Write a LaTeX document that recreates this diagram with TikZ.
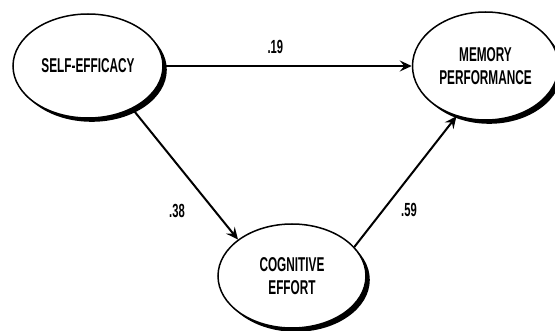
\documentclass[tikz,border=0pt]{standalone}
\usepackage{fontspec}
\newfontfamily\narrowsans[FakeStretch=0.59]{Liberation Sans}
\usetikzlibrary{positioning}
\usetikzlibrary{shapes.geometric}
\usetikzlibrary{shadows}
\usetikzlibrary{arrows.meta}

\tikzset{
  construct/.style={ellipse, draw, line width=1.5pt, fill=white, inner sep=0pt,
    align=center, font=\narrowsans\bfseries\fontsize{20}{23}\selectfont,
    drop shadow={shadow xshift=3.8pt, shadow yshift=-3.8pt, fill=black, opacity=1}},
  coef/.style={font=\narrowsans\bfseries\fontsize{19}{20}\selectfont, inner sep=0pt},
  link/.style={line width=2pt, -{Stealth[length=12pt, width=11pt, inset=4.5pt]}}
}

\begin{document}
\begin{tikzpicture}[x=1pt, y=-1pt]
\useasboundingbox (0,0) rectangle (555,331);

% self-efficacy
\node[construct, minimum width=150pt, minimum height=104pt] (self) at (88,66) {SELF-EFFICACY};

% memory performance
\node[construct, minimum width=146pt, minimum height=108pt, right=248pt of self] (mem) {MEMORY\\PERFORMANCE};

% cognitive effort
\node[construct, minimum width=148pt, minimum height=104pt] (cog) at (292,276) {COGNITIVE\\EFFORT};

\draw[link] (self) -- (mem) node[coef, pos=0.45, above=11pt] (c19) {.19};
\draw[link] (self.-44) -- (cog.146) node[coef] (c38) at (177,211) {.38};
\draw[link] (cog.25) -- (mem.240) node[coef] (c59) at (409,210) {.59};
\end{tikzpicture}
\end{document}
